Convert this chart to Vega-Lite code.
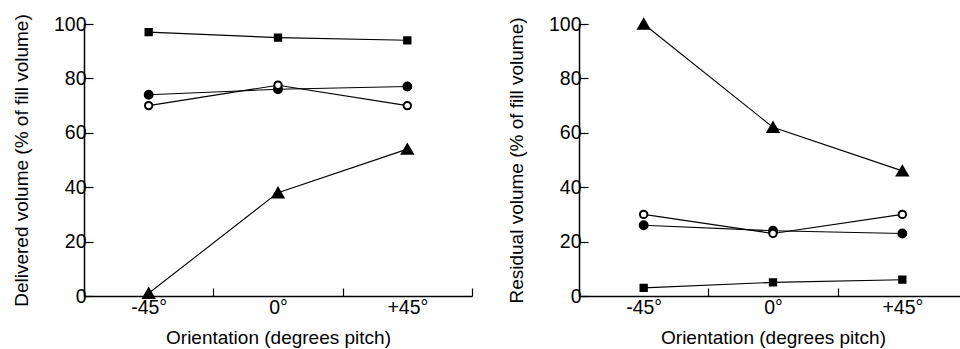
{
  "$schema": "https://vega.github.io/schema/vega-lite/v6.json",
  "padding": {"left": 12, "top": 13, "right": 0, "bottom": 0},
  "background": "white",
  "spacing": 34,
  "data": {
    "values": [
      {"panel": "Delivered", "orient": "-45°", "series": "square", "value": 97},
      {"panel": "Delivered", "orient": "0°", "series": "square", "value": 95},
      {"panel": "Delivered", "orient": "+45°", "series": "square", "value": 94},
      {"panel": "Delivered", "orient": "-45°", "series": "filled", "value": 74},
      {"panel": "Delivered", "orient": "0°", "series": "filled", "value": 76},
      {"panel": "Delivered", "orient": "+45°", "series": "filled", "value": 77},
      {"panel": "Delivered", "orient": "-45°", "series": "open", "value": 70},
      {"panel": "Delivered", "orient": "0°", "series": "open", "value": 77.5},
      {"panel": "Delivered", "orient": "+45°", "series": "open", "value": 70},
      {"panel": "Delivered", "orient": "-45°", "series": "triangle", "value": 1},
      {"panel": "Delivered", "orient": "0°", "series": "triangle", "value": 38},
      {"panel": "Delivered", "orient": "+45°", "series": "triangle", "value": 54},
      {"panel": "Residual", "orient": "-45°", "series": "square", "value": 3},
      {"panel": "Residual", "orient": "0°", "series": "square", "value": 5},
      {"panel": "Residual", "orient": "+45°", "series": "square", "value": 6},
      {"panel": "Residual", "orient": "-45°", "series": "filled", "value": 26},
      {"panel": "Residual", "orient": "0°", "series": "filled", "value": 24},
      {"panel": "Residual", "orient": "+45°", "series": "filled", "value": 23},
      {"panel": "Residual", "orient": "-45°", "series": "open", "value": 30},
      {"panel": "Residual", "orient": "0°", "series": "open", "value": 23},
      {"panel": "Residual", "orient": "+45°", "series": "open", "value": 30},
      {"panel": "Residual", "orient": "-45°", "series": "triangle", "value": 100},
      {"panel": "Residual", "orient": "0°", "series": "triangle", "value": 62},
      {"panel": "Residual", "orient": "+45°", "series": "triangle", "value": 46}
    ]
  },
  "config": {
    "view": {"stroke": null},
    "font": "Liberation Sans",
    "axis": {
      "domainColor": "black",
      "domainWidth": 1.5,
      "tickColor": "black",
      "tickWidth": 1.2,
      "labelColor": "black",
      "titleColor": "black",
      "labelFont": "Liberation Sans",
      "titleFont": "Liberation Sans",
      "labelFontSize": 19.5,
      "titleFontSize": 19,
      "titleFontWeight": "normal",
      "grid": false
    }
  },
  "hconcat": [
    {
      "width": 388,
      "height": 272,
      "transform": [{"filter": "datum.panel === 'Delivered'"}],
      "encoding": {
        "x": {
          "field": "orient",
          "type": "nominal",
          "sort": ["-45°", "0°", "+45°"],
          "scale": {"type": "band", "paddingInner": 0, "paddingOuter": 0},
          "axis": {"title": "Orientation (degrees pitch)", "labelAngle": 0, "tickBand": "extent", "tickSize": -8, "labelPadding": 10, "titlePadding": 12}
        },
        "y": {
          "field": "value",
          "type": "quantitative",
          "scale": {"domain": [0, 100], "nice": false, "zero": true},
          "axis": {"title": "Delivered volume (% of fill volume)", "values": [0, 20, 40, 60, 80, 100], "tickSize": -9, "labelPadding": 7, "titlePadding": 22}
        }
      },
      "layer": [
        {
          "mark": {"type": "line", "color": "black", "strokeWidth": 1.1},
          "encoding": {"detail": {"field": "series", "type": "nominal"}}
        },
        {
          "mark": {"type": "point", "filled": true, "stroke": "black", "strokeWidth": 2, "opacity": 1},
          "encoding": {
            "shape": {"field": "series", "type": "nominal", "scale": {"domain": ["square", "filled", "open", "triangle"], "range": ["square", "circle", "circle", "triangle-up"]}, "legend": null},
            "fill": {"field": "series", "type": "nominal", "scale": {"domain": ["square", "filled", "open", "triangle"], "range": ["black", "black", "white", "black"]}, "legend": null},
            "size": {"field": "series", "type": "nominal", "scale": {"type": "ordinal", "domain": ["square", "filled", "open", "triangle"], "range": [40, 62, 55, 120]}, "legend": null}
          }
        }
      ]
    },
    {
      "width": 388,
      "height": 272,
      "transform": [{"filter": "datum.panel === 'Residual'"}],
      "encoding": {
        "x": {
          "field": "orient",
          "type": "nominal",
          "sort": ["-45°", "0°", "+45°"],
          "scale": {"type": "band", "paddingInner": 0, "paddingOuter": 0},
          "axis": {"title": "Orientation (degrees pitch)", "labelAngle": 0, "tickBand": "extent", "tickSize": -8, "labelPadding": 10, "titlePadding": 12}
        },
        "y": {
          "field": "value",
          "type": "quantitative",
          "scale": {"domain": [0, 100], "nice": false, "zero": true},
          "axis": {"title": "Residual volume (% of fill volume)", "values": [0, 20, 40, 60, 80, 100], "tickSize": -9, "labelPadding": 7, "titlePadding": 22}
        }
      },
      "layer": [
        {
          "mark": {"type": "line", "color": "black", "strokeWidth": 1.1},
          "encoding": {"detail": {"field": "series", "type": "nominal"}}
        },
        {
          "mark": {"type": "point", "filled": true, "stroke": "black", "strokeWidth": 2, "opacity": 1},
          "encoding": {
            "shape": {"field": "series", "type": "nominal", "scale": {"domain": ["square", "filled", "open", "triangle"], "range": ["square", "circle", "circle", "triangle-up"]}, "legend": null},
            "fill": {"field": "series", "type": "nominal", "scale": {"domain": ["square", "filled", "open", "triangle"], "range": ["black", "black", "white", "black"]}, "legend": null},
            "size": {"field": "series", "type": "nominal", "scale": {"type": "ordinal", "domain": ["square", "filled", "open", "triangle"], "range": [40, 62, 55, 120]}, "legend": null}
          }
        }
      ]
    }
  ]
}
